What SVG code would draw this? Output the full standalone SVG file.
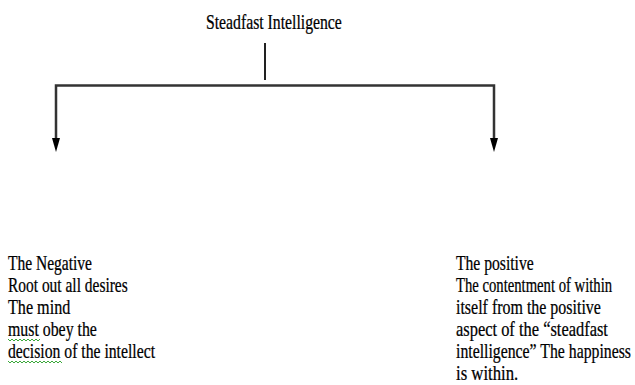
<svg xmlns="http://www.w3.org/2000/svg" width="635" height="385" viewBox="0 0 635 385">
<style>
text{font-family:"Liberation Serif","Times New Roman",serif;font-size:21px;fill:#000;stroke:#000;stroke-width:0.25}
.ln{stroke:#333;stroke-width:2.5;fill:none}
.stem{stroke:#222;stroke-width:2;fill:none}
.sq{stroke:#3aa83a;stroke-width:1;fill:none}
</style>
<rect width="635" height="385" fill="#fff"/>
<g id="title">
<text transform="matrix(0.7,0,0,1,206,29)" x="0" y="0" textLength="194" lengthAdjust="spacingAndGlyphs">Steadfast Intelligence</text>
</g>
<g id="connectors">
<line class="stem" x1="265" y1="43" x2="265" y2="80"/>
<path class="ln" d="M56,140 V85.5 H494 V140"/>
<path d="M52,138 L60,138 L56,152 Z" fill="#000"/>
<path d="M490,138 L498,138 L494,152 Z" fill="#000"/>
</g>
<g id="negative">
<text transform="matrix(0.7,0,0,1,8,270)" x="0" y="0" textLength="120" lengthAdjust="spacingAndGlyphs">The Negative</text>
<text transform="matrix(0.7,0,0,1,8,292)" x="0" y="0" textLength="171" lengthAdjust="spacingAndGlyphs">Root out all desires</text>
<text transform="matrix(0.7,0,0,1,8,314)" x="0" y="0" textLength="89" lengthAdjust="spacingAndGlyphs">The mind</text>
<text transform="matrix(0.7,0,0,1,8,336)" x="0" y="0" textLength="127" lengthAdjust="spacingAndGlyphs">must obey the</text>
<text transform="matrix(0.7,0,0,1,8,358)" x="0" y="0" textLength="210" lengthAdjust="spacingAndGlyphs">decision of the intellect</text>
<path class="sq" d="M8,339 l2,2 l2,-2 l2,2 l2,-2 l2,2 l2,-2 l2,2 l2,-2 l2,2 l2,-2 l2,2 l2,-2 l2,2 l2,-2 l2,2 l2,-2"/>
<path class="sq" d="M8,361 l2,2 l2,-2 l2,2 l2,-2 l2,2 l2,-2 l2,2 l2,-2 l2,2 l2,-2 l2,2 l2,-2 l2,2 l2,-2 l2,2 l2,-2 l2,2 l2,-2 l2,2 l2,-2 l2,2 l2,-2 l2,2 l2,-2 l2,2 l2,-2 l2,2"/>
</g>
<g id="positive">
<text transform="matrix(0.7,0,0,1,456,270)" x="0" y="0" textLength="111" lengthAdjust="spacingAndGlyphs">The positive</text>
<text transform="matrix(0.7,0,0,1,456,292)" x="0" y="0" textLength="223" lengthAdjust="spacingAndGlyphs">The contentment of within</text>
<text transform="matrix(0.7,0,0,1,456,314)" x="0" y="0" textLength="207" lengthAdjust="spacingAndGlyphs">itself from the positive</text>
<text transform="matrix(0.7,0,0,1,456,336)" x="0" y="0" textLength="217" lengthAdjust="spacingAndGlyphs">aspect of the “steadfast</text>
<text transform="matrix(0.7,0,0,1,456,358)" x="0" y="0" textLength="250" lengthAdjust="spacingAndGlyphs">intelligence” The happiness</text>
<text transform="matrix(0.7,0,0,1,456,380)" x="0" y="0" textLength="89" lengthAdjust="spacingAndGlyphs">is within.</text>
</g>
</svg>
